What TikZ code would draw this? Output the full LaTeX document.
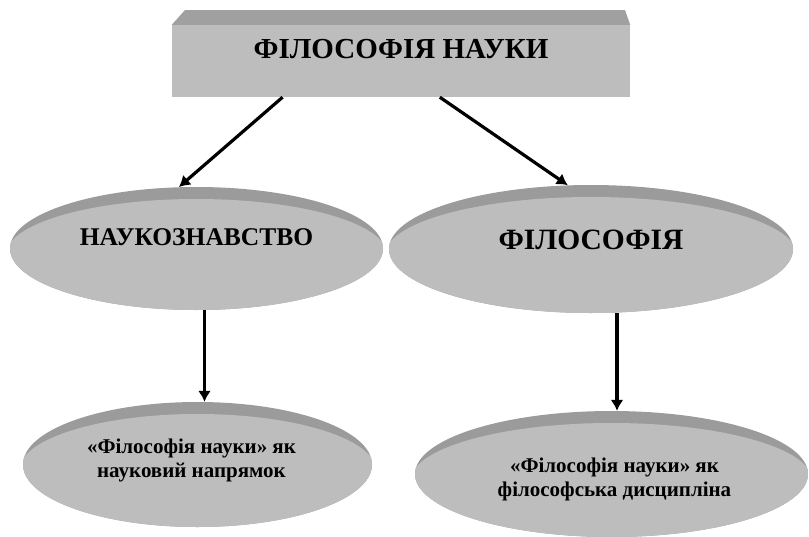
\documentclass[tikz,border=0pt]{standalone}
\usepackage{fontspec}
\setmainfont{Liberation Serif}
\usetikzlibrary{shapes.geometric,arrows.meta}

\definecolor{facegray}{HTML}{BDBDBD}
\definecolor{bandgray}{HTML}{9B9B9B}
\definecolor{topgray}{HTML}{A0A0A0}

\tikzset{
  disc/.style 2 args={ellipse, fill=bandgray, inner sep=0pt,
    minimum width=#1, minimum height=#2,
    path picture={\fill[facegray] ([yshift=-6pt]path picture bounding box.center)
      ellipse ({#1/2+4} and {#2/2-6});}},
  arr/.style={-{Latex[length=11pt,width=13pt]}, line width=3.2pt},
  bigtxt/.style={font=\bfseries\fontsize{#1}{#1}\selectfont},
  smalltxt/.style={font=\bfseries\fontsize{21}{24}\selectfont, align=center}
}

\begin{document}
\begin{tikzpicture}[x=1pt,y=-1pt]
    \useasboundingbox (0,0) rectangle (809,536);

    % draw top box
    \node[fill=facegray, inner sep=0pt, minimum width=458, minimum height=72] (nauka) at (401,61) {};
    \fill[topgray] (185,10) -- (625,10) -- (nauka.north east) -- (nauka.north west) -- cycle;
    \node[bigtxt=29] (nauka-t) at ([yshift=12]nauka.center) {ФІЛОСОФІЯ НАУКИ};

    % draw discs
    \node[disc={373}{123}] (naukozn) at (196.5,248.5) {};
    \node[disc={404}{128}] (filos) at (591,249) {};
    \node[disc={349}{125}] (napryam) at (197.5,464.5) {};
    \node[disc={393}{126}] (dysc) at (611.5,474) {};

    % draw texts
    \node[bigtxt=25.5] (naukozn-t) at ([yshift=11]naukozn.center) {НАУКОЗНАВСТВО};
    \node[bigtxt=29.5] (filos-t) at ([yshift=9]filos.center) {ФІЛОСОФІЯ};
    \node[smalltxt] (napryam-t) at ([xshift=-6,yshift=4]napryam.center) {«Філософія науки» як\\науковий напрямок};
    \node[smalltxt] (dysc-t) at ([xshift=3,yshift=-5]dysc.center) {«Філософія науки» як\\філософська дисципліна};

    % draw arrows
    \draw[arr] (nauka.197) -- (naukozn.106);
    \draw[arr] (nauka.317) -- (filos.110);
    \draw[arr] ([xshift=8]naukozn.south) -- ([xshift=8]naukozn.south |- napryam.north);
    \draw[arr] ([xshift=26]filos.south) -- ([xshift=26]filos.south |- dysc.north);
\end{tikzpicture}
\end{document}
